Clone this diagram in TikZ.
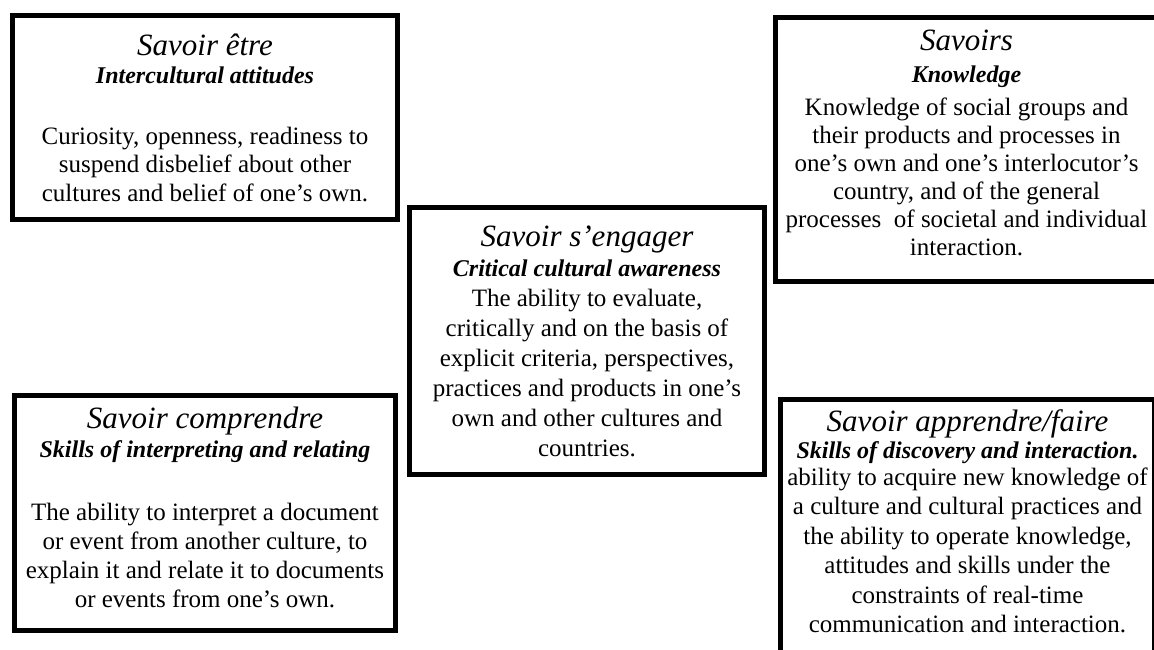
\documentclass[tikz,border=0pt]{standalone}
\usepackage{fontspec}
\setmainfont{Liberation Serif}
\usetikzlibrary{positioning}

% heading and sub-heading of each box
\newcommand{\savhead}[1]{{\fontsize{31}{34}\selectfont\itshape #1}}
\newcommand{\savsub}[1]{{\fontsize{24}{28}\selectfont\bfseries\itshape #1}}

\tikzset{
  savbox/.style={draw=black, line width=5pt, fill=white, align=center,
    inner sep=0pt, font=\fontsize{25}{28.5}\selectfont},
}

\begin{document}
\begin{tikzpicture}[x=1pt,y=-1pt]
  %\draw[color=gray,step=50, help lines,opacity=0.3] (0,0) grid (1154,650); %help grid
  \useasboundingbox (0,0) rectangle (1154,650);
  \clip (0,0) rectangle (1154,650);

  \node[savbox, minimum width=385pt, minimum height=204pt] (etre) at (205,117.5)
    {\savhead{Savoir être}\\
     \savsub{Intercultural attitudes}\\[32pt]
     Curiosity, openness, readiness to\\
     suspend disbelief about other\\
     cultures and belief of one’s own.};

  % text sits a bit high in the right-hand boxes, hence the extra text depth
  \node[savbox, minimum width=382pt, minimum height=264pt, text depth=14pt,
        font=\fontsize{25}{28}\selectfont] (savoirs) at (966.5,149.5)
    {\savhead{Savoirs}\\[4pt]
     \savsub{Knowledge}\\[5pt]
     Knowledge of social groups and\\
     their products and processes in\\
     one’s own and one’s interlocutor’s\\
     country, and of the general\\
     processes\ \ of societal and individual\\
     interaction.};

  \node[savbox, minimum width=355pt, minimum height=267pt, font=\fontsize{25}{30}\selectfont] (engager) at (587,341)
    {\savhead{Savoir s’engager}\\
     \savsub{Critical cultural awareness}\\
     The ability to evaluate,\\
     critically and on the basis of\\
     explicit criteria, perspectives,\\
     practices and products in one’s\\
     own and other cultures and\\
     countries.};

  \node[savbox, minimum width=381pt, minimum height=235pt, text depth=12pt,
        font=\fontsize{25}{29}\selectfont] (comprendre) at (205,513)
    {\savhead{Savoir comprendre}\\
     \savsub{Skills of interpreting and relating}\\[34pt]
     The ability to interpret a document\\
     or event from another culture, to\\
     explain it and relate it to documents\\
     or events from one’s own.};

  \node[savbox, minimum width=374pt, minimum height=254pt, text depth=11pt,
        font=\fontsize{25}{29.5}\selectfont] (apprendre) at (967.5,526.5)
    {\savhead{Savoir apprendre/faire}\\[-2pt]
     \savsub{Skills of discovery and interaction.}\\[-3pt]
     ability to acquire new knowledge of\\
     a culture and cultural practices and\\
     the ability to operate knowledge,\\
     attitudes and skills under the\\
     constraints of real-time\\
     communication and interaction.};
\end{tikzpicture}
\end{document}
